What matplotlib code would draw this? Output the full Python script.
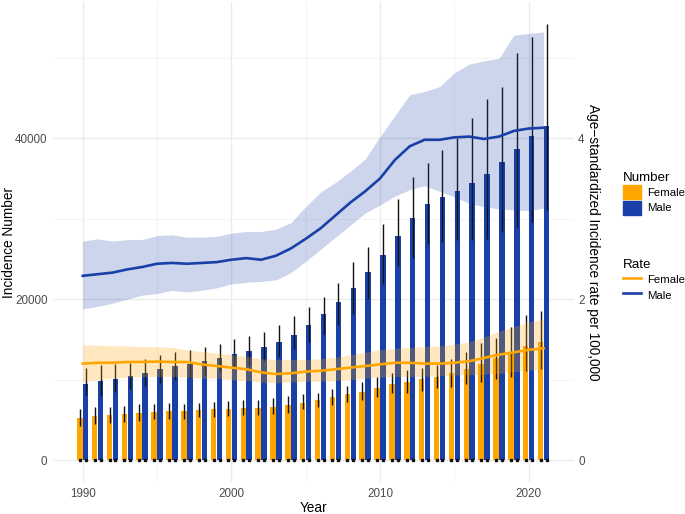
import numpy as np
import matplotlib.pyplot as plt
from matplotlib.patches import Patch
from matplotlib.lines import Line2D

plt.rcParams['font.family'] = ['Liberation Sans', 'DejaVu Sans']

# Colours
orange = '#FFA700'
blue = '#1840A8'

years = np.arange(1990, 2022)

# Incidence numbers (bars) with uncertainty intervals
female_num = [5290, 5500, 5630, 5790, 5920, 6040, 6120, 6120, 6250, 6330,
              6410, 6500, 6500, 6620, 6870, 7160, 7490, 7820, 8190, 8520,
              9020, 9510, 9760, 10060, 10390, 10810, 11340, 12000, 12750, 13450,
              14240, 14730]
female_lo = [4260, 4510, 4600, 4800, 4920, 5090, 5170, 5170, 5340, 5420,
             5500, 5630, 5630, 5750, 5840, 6330, 6580, 6870, 7200, 7490,
             7860, 8320, 8400, 8610, 8940, 9070, 9440, 9760, 10140, 10390,
             11130, 11380]
female_hi = [6370, 6580, 6660, 6790, 6960, 6990, 7120, 7030, 7080, 7240,
             7400, 7450, 7500, 7700, 7950, 8190, 8320, 8900, 9270, 9690,
             10310, 10810, 11220, 11500, 11880, 12550, 13420, 14530, 15230, 16600,
             18050, 18510]

male_num = [9470, 9810, 10140, 10510, 10880, 11300, 11680, 11920, 12330, 12750,
            13170, 13620, 14070, 14730, 15600, 16800, 18200, 19700, 21440, 23350,
            25470, 27860, 30100, 31800, 32710, 33490, 34480, 35600, 37020, 38670,
            40290, 41570]
male_lo = [8110, 8030, 8520, 8820, 9270, 9640, 9970, 10260, 10600, 11010,
           11300, 11710, 12330, 12870, 13790, 14730, 15700, 16800, 18100, 20000,
           21900, 24140, 25130, 26910, 27120, 27330, 27370, 27530, 28360, 29020,
           29640, 31090]
male_hi = [11470, 11840, 11960, 12050, 12550, 13040, 13450, 13700, 14070, 14450,
           15070, 15480, 15940, 16770, 17960, 19000, 20300, 22060, 24600, 26460,
           29320, 32500, 35190, 36890, 38510, 40000, 42480, 44840, 46340, 50630,
           52550, 54200]

# Age-standardized incidence rate per 100,000 (lines) with uncertainty ribbons
female_rate = [1.20, 1.21, 1.21, 1.22, 1.22, 1.225, 1.22, 1.22, 1.19, 1.17,
               1.15, 1.13, 1.09, 1.07, 1.08, 1.10, 1.11, 1.13, 1.15, 1.17,
               1.19, 1.21, 1.21, 1.20, 1.20, 1.21, 1.23, 1.27, 1.31, 1.34,
               1.37, 1.39]
female_rate_lo = [0.98, 1.00, 1.02, 1.03, 1.04, 1.04, 1.04, 1.03, 1.02, 1.02,
                  1.00, 0.99, 0.97, 0.96, 0.97, 0.98, 0.98, 0.99, 1.00, 1.02,
                  1.03, 1.04, 1.04, 1.04, 1.05, 1.06, 1.06, 1.07, 1.08, 1.10,
                  1.12, 1.13]
female_rate_hi = [1.43, 1.43, 1.42, 1.42, 1.41, 1.41, 1.40, 1.37, 1.35, 1.33,
                  1.31, 1.29, 1.26, 1.25, 1.25, 1.25, 1.26, 1.28, 1.31, 1.34,
                  1.37, 1.39, 1.40, 1.41, 1.42, 1.44, 1.47, 1.53, 1.60, 1.66,
                  1.72, 1.75]

male_rate = [2.29, 2.31, 2.33, 2.37, 2.40, 2.44, 2.45, 2.44, 2.45, 2.46,
             2.49, 2.51, 2.49, 2.54, 2.63, 2.75, 2.88, 3.04, 3.20, 3.34,
             3.50, 3.73, 3.90, 3.98, 3.98, 4.01, 4.02, 3.99, 4.02, 4.09,
             4.12, 4.13]
male_rate_lo = [1.88, 1.91, 1.95, 2.00, 2.05, 2.07, 2.11, 2.09, 2.11, 2.14,
                2.19, 2.21, 2.22, 2.24, 2.33, 2.47, 2.62, 2.77, 2.92, 3.07,
                3.17, 3.28, 3.36, 3.41, 3.34, 3.27, 3.19, 3.15, 3.12, 3.11,
                3.10, 3.13]
male_rate_hi = [2.72, 2.75, 2.72, 2.74, 2.74, 2.79, 2.80, 2.77, 2.77, 2.78,
                2.82, 2.84, 2.84, 2.87, 2.95, 3.15, 3.33, 3.45, 3.59, 3.74,
                4.02, 4.28, 4.54, 4.58, 4.64, 4.81, 4.92, 4.96, 4.99, 5.28,
                5.30, 5.32]

fig = plt.figure(figsize=(6.85, 5.14), dpi=100)
ax = fig.add_axes([0.0774, 0.0623, 0.7606, 0.9337])

dodge = 0.2
bw = 0.37
xf = years - dodge
xm = years + dodge

ax.bar(xf, female_num, width=bw, color=orange, zorder=2)
ax.bar(xm, male_num, width=bw, color=blue, zorder=2)

fn = np.array(female_num)
mn = np.array(male_num)
ax.errorbar(xf, fn, yerr=[fn - np.array(female_lo), np.array(female_hi) - fn],
            fmt='none', ecolor='#111111', elinewidth=1.0, capsize=0, zorder=3)
ax.errorbar(xm, mn, yerr=[mn - np.array(male_lo), np.array(male_hi) - mn],
            fmt='none', ecolor='#111111', elinewidth=1.0, capsize=0, zorder=3)
# little marks at the baseline under every bar
ax.plot(np.concatenate([xf, xm]), np.zeros(2 * len(years)), ls='none',
        marker='s', ms=1.6, color='#111111', zorder=3)

ax.set_xlim(1988.0, 2023.05)
ax.set_ylim(-2710, 56910)
ax.set_xticks([1990, 2000, 2010, 2020])
ax.set_xticks([1995, 2005, 2015], minor=True)
ax.set_yticks([0, 20000, 40000])
ax.set_yticks([10000, 30000, 50000], minor=True)
ax.grid(which='major', color='#ebebeb', lw=1.0, zorder=0)
ax.grid(which='minor', color='#f2f2f2', lw=0.6, zorder=0)
ax.set_axisbelow(True)
for s in ax.spines.values():
    s.set_visible(False)
ax.tick_params(which='both', length=0, labelsize=8.4, labelcolor='#4d4d4d', pad=4)
ax.set_xlabel('Year', fontsize=9.8)
ax.set_ylabel('Incidence Number', fontsize=9.8)
ax.xaxis.set_label_coords(0.5, -0.04)
ax.yaxis.set_label_coords(-0.072, 0.5)

# Rate axis
ax2 = ax.twinx()
ax2.set_ylim(-0.271, 5.691)
ax2.fill_between(years, female_rate_lo, female_rate_hi, color=orange, alpha=0.25,
                 lw=0, zorder=1)
ax2.fill_between(years, male_rate_lo, male_rate_hi, color=blue, alpha=0.22,
                 lw=0, zorder=1)
ax2.plot(years, female_rate, color=orange, lw=1.9, zorder=2)
ax2.plot(years, male_rate, color=blue, lw=1.9, zorder=2)
ax2.set_yticks([0, 2, 4])
for s in ax2.spines.values():
    s.set_visible(False)
ax2.tick_params(length=0, labelsize=8.4, labelcolor='#4d4d4d', pad=3)
fig.text(593 / 685, 1 - 242 / 514, 'Age\u2212standardized Incidence rate per 100,000',
         fontsize=9.8, rotation=-90, ha='center', va='center')

# Legends
leg1 = fig.legend(handles=[Patch(color=orange, label='Female'),
                           Patch(color=blue, label='Male')],
                  title='Number', loc='upper left', bbox_to_anchor=(0.903, 0.675),
                  frameon=False, fontsize=8.2, title_fontsize=9.6,
                  handlelength=1.6, handleheight=1.55, handletextpad=0.55,
                  labelspacing=0.12, borderaxespad=0)
leg1._legend_box.align = 'left'
leg2 = fig.legend(handles=[Line2D([], [], color=orange, lw=1.9, label='Female'),
                           Line2D([], [], color=blue, lw=1.9, label='Male')],
                  title='Rate', loc='upper left', bbox_to_anchor=(0.903, 0.505),
                  frameon=False, fontsize=8.2, title_fontsize=9.6,
                  handlelength=1.6, handleheight=1.55, handletextpad=0.55,
                  labelspacing=0.12, borderaxespad=0)
leg2._legend_box.align = 'left'

fig.savefig('out.png', dpi=100)
